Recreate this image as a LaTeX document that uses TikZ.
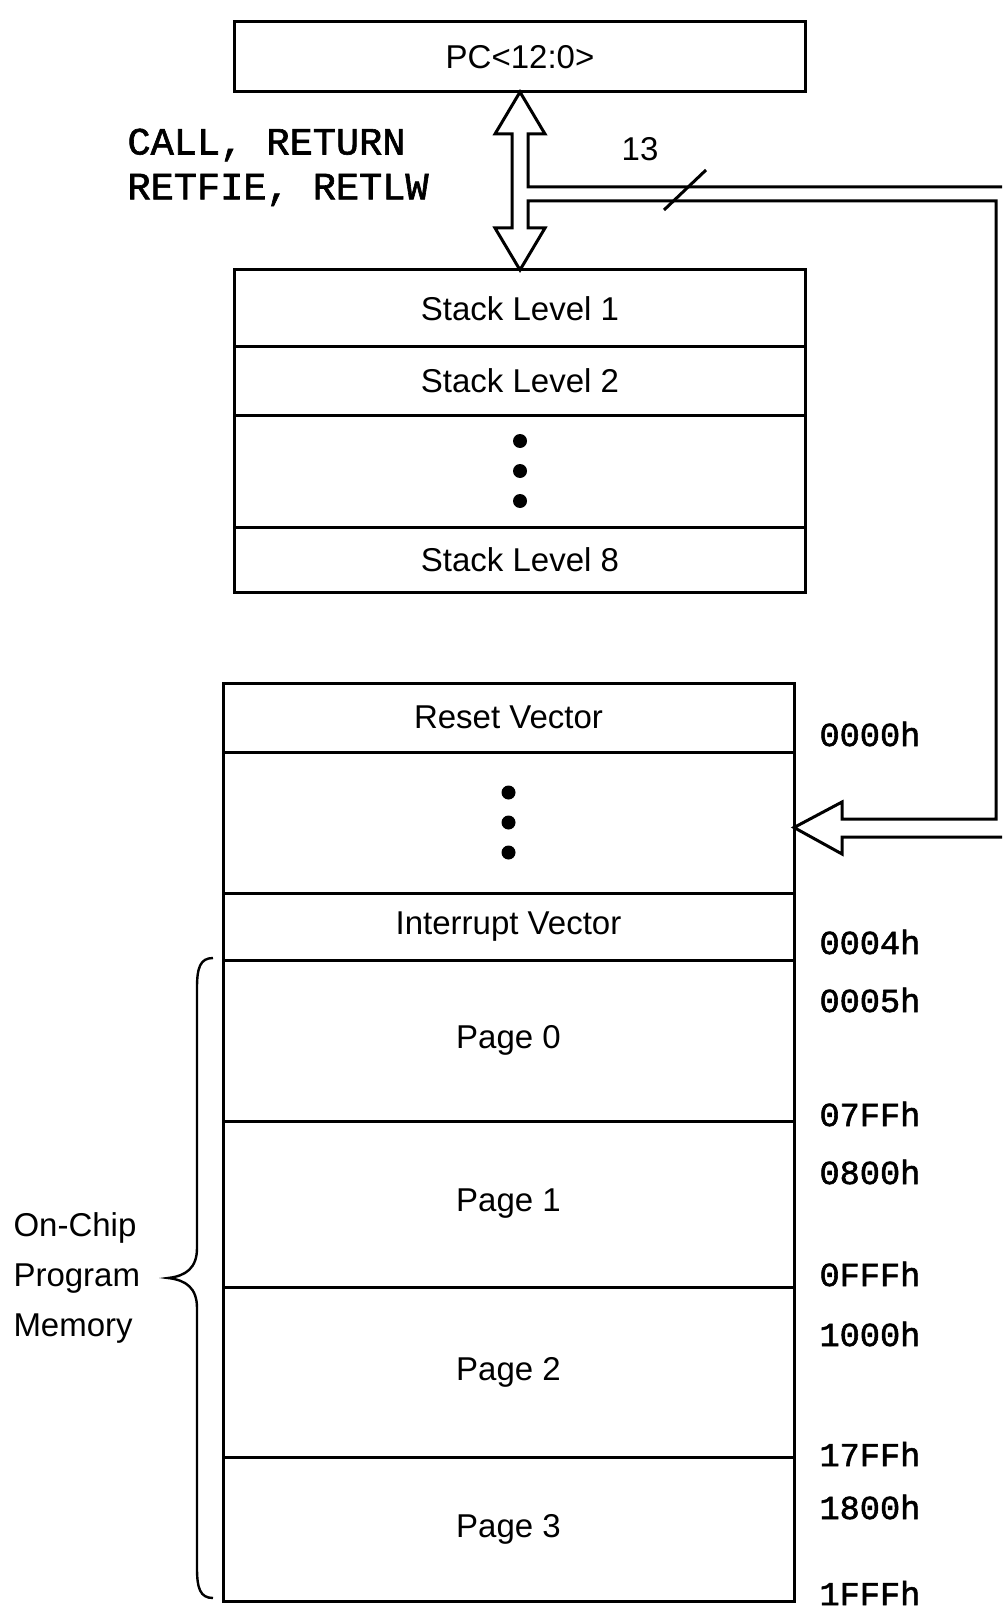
\documentclass[tikz,border=0pt]{standalone}
\usepackage{fontspec}
\setmainfont{Liberation Sans}
\newfontfamily\monofont[FakeBold=1.6]{Liberation Mono}
\usetikzlibrary{positioning}
\begin{document}
\begin{tikzpicture}[x=0.5pt, y=-0.5pt, line width=1.5pt,
  every node/.style={font=\fontsize{16.5}{20}\selectfont},
  cell/.style={draw, minimum width=285.5pt, inner sep=0pt, outer sep=0pt},
  addr/.style={anchor=west, inner sep=0pt, font=\monofont\fontsize{16.8}{20}\selectfont},
  ops/.style={anchor=west, inner sep=0pt, font=\monofont\fontsize{19.3}{22}\selectfont}]
\useasboundingbox (0,0) rectangle (1002,1615);
\clip (0,0) rectangle (1002,1615);
% program counter and stack
\node[cell, minimum height=35pt] (pc) at (520,57) {PC<12:0>};
\node[cell, minimum height=38.5pt, anchor=north] (s1) at (520,270) {Stack Level 1};
\node[cell, minimum height=34pt, below=0pt of s1] (s2) {Stack Level 2};
\node[cell, minimum height=56pt, below=0pt of s2] (sdots) {};
\node[cell, minimum height=32.5pt, below=0pt of sdots] (s8) {Stack Level 8};
% program memory map
\node[cell, minimum height=34.5pt, anchor=north] (reset) at (508.5,683) {Reset Vector};
\node[cell, minimum height=70.5pt, below=0pt of reset] (mdots) {};
\node[cell, minimum height=33.5pt, below=0pt of mdots] (intv) {Interrupt Vector};
\node[cell, minimum height=80.5pt, below=0pt of intv] (page0) {Page 0};
\node[cell, minimum height=83pt, below=0pt of page0] (page1) {Page 1};
\node[cell, minimum height=85pt, below=0pt of page1] (page2) {Page 2};
\node[cell, minimum height=72pt, below=0pt of page2] (page3) {Page 3};
\foreach \n in {sdots, mdots}
  \foreach \dy in {-15,0,15}
    \fill ([yshift=\dy pt]\n.center) circle (3.5pt);
% hollow bus: PC <-> stack, and PC -> memory
\coordinate (mtip) at ([yshift=-2.5pt]mdots.east);
\draw[line join=miter] (pc.south) -- (545,134) -- (528,134) -- (528,187) -- (1010,187)
  -- (1010,837) -- (842,837) -- (842,854) -- (mtip) -- (842,802) -- (842,819)
  -- (996,819) -- (996,201) -- (528,201) -- (528,228) -- (545,228) -- (s1.north)
  -- (495,228) -- (512,228) -- (512,134) -- (495,134) -- cycle;
\draw (664,210) -- (706,170);
\node (buswidth) at (640,149) {13};
\node[ops] (callret) at (126,145) {CALL, RETURN};
\node[ops] (retfie) at (126,190) {RETFIE, RETLW};
% addresses
\foreach \a/\y in {0000h/734, 0004h/942, 0005h/1000, 07FFh/1114, 0800h/1172,
    0FFFh/1274, 1000h/1334, 17FFh/1454, 1800h/1507, 1FFFh/1593}
  \node[addr] (a\a) at (818,\y) {\a};
% brace
\draw[line width=1.2pt] (213,958) .. controls (200,958) and (197,968) .. (197,988)
  -- (197,1248) .. controls (197,1268) and (186,1276) .. (168,1278)
  .. controls (186,1280) and (197,1288) .. (197,1308)
  -- (197,1568) .. controls (197,1588) and (200,1598) .. (213,1598);
\node[anchor=west, align=left, inner sep=0pt, font=\fontsize{16.5}{25}\selectfont] (onchip) at (12,1278) {On-Chip\\Program\\Memory};
\end{tikzpicture}
\end{document}
